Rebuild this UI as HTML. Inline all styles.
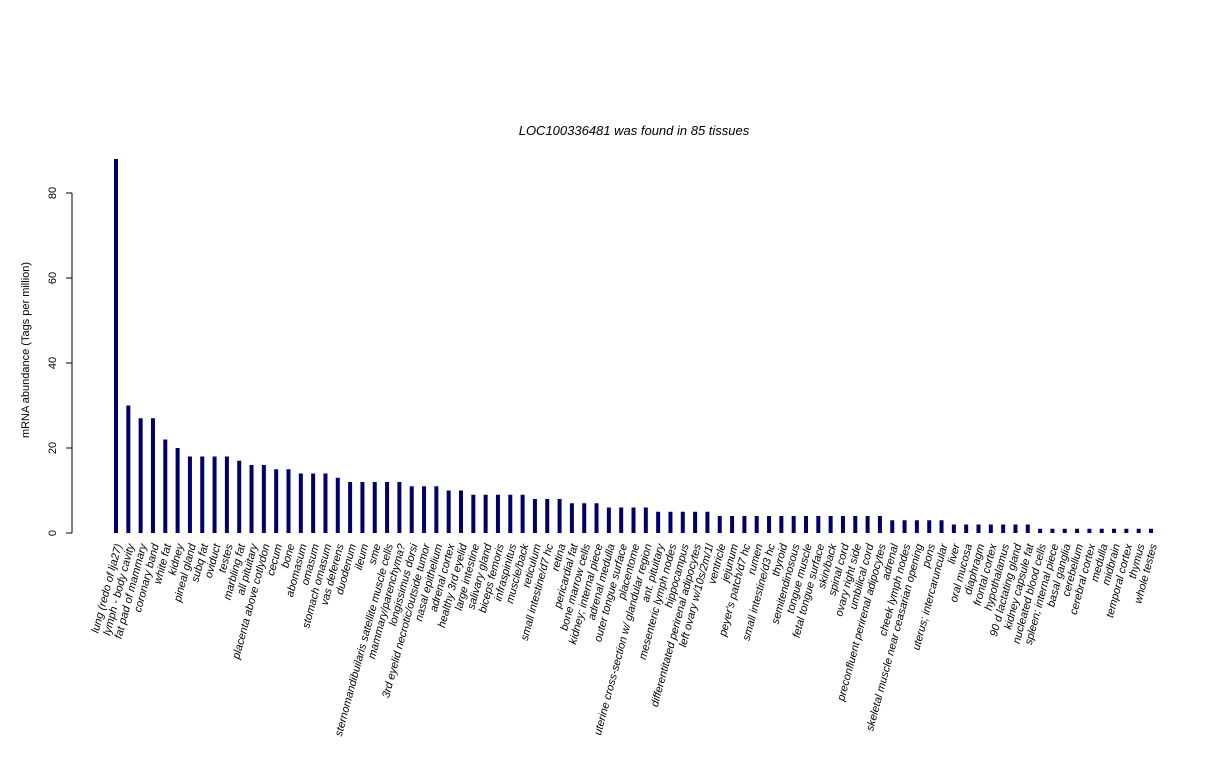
<!DOCTYPE html>
<html><head><meta charset="utf-8"><style>
body{margin:0;background:#fff}
svg text{font-family:"Liberation Sans",sans-serif;fill:#000}
</style></head><body>
<svg id="chart" width="1224" height="768" xmlns="http://www.w3.org/2000/svg">
<text x="634" y="135" text-anchor="middle" font-size="13" font-style="italic">LOC100336481  was found in  85  tissues</text>
<text transform="translate(29,350) rotate(-90)" text-anchor="middle" font-size="11">mRNA abundance (Tags per million)</text>
<g id="yaxis"></g>
<g id="bars"></g>
<g id="xlabels"></g>
</svg>
<script>
const categories=["lung (redo of lja27)","lymph - body cavity","fat pad of mammary","coronary band","white fat","kidney","pineal gland","subq fat","oviduct","testes","marbling fat","all pituitary","placenta above cotlydon","cecum","bone","abomasum","omasum","stomach omasum","vas deferens","duodenum","ileum","sme","sternomandibuilaris satellite muscle cells","mammary/parenchyma?","longissimus dorsi","3rd eyelid necrotic/outside tumor","nasal epithelium","adrenal cortex","healthy 3rd eyelid","large intestine","salivary gland","biceps femoris","infraspinitus","muscle/back","reticulum","small intestine/d7 hc","retina","pericardial fat","bone marrow cells","kidney; internal piece","adrenal medulla","outer tongue surface","placentome","uterine cross-section w/ glandular region","ant. pituitary","mesenteric lymph nodes","hippocampus","differentitated perirenal adipocytes","left ovary w/10s/2m/1l","ventricle","jejunum","peyer's patch/d7 hc","rumen","small intestine/d3 hc","thyroid","semitendinosous","tongue muscle","fetal tongue surface","skin/back","spinal cord","ovary right side","umbilical cord","preconfluent perirenal adipocytes","adrenal","cheek lymph nodes","skeletal muscle near ceasarian opening","pons","uterus; intercaruncular","liver","oral mucosa","diaphragm","frontal cortex","hypothalamus","90 d lactating gland","kidney capsule fat","nucleated blood cells","spleen; internal piece","basal ganglia","cerebellum","cerebral cortex","medulla","midbrain","temporal cortex","thymus","whole testes"];
const values=[88,30,27,27,22,20,18,18,18,18,17,16,16,15,15,14,14,14,13,12,12,12,12,12,11,11,11,10,10,9,9,9,9,9,8,8,8,7,7,7,6,6,6,6,5,5,5,5,5,4,4,4,4,4,4,4,4,4,4,4,4,4,4,3,3,3,3,3,2,2,2,2,2,2,2,1,1,1,1,1,1,1,1,1,1];
const yTicks=[0,20,40,60,80];
const NS="http://www.w3.org/2000/svg";
const y=v=>533-v*4.25;
const x=i=>116+i*(1151-116)/84;
function mk(t,a,p){const e=document.createElementNS(NS,t);for(const k in a)e.setAttribute(k,a[k]);p.appendChild(e);return e;}
const ya=document.getElementById('yaxis');
const al=mk('line',{x1:72,x2:72,y1:y(0),y2:y(80),stroke:'#000'},ya);


yTicks.forEach(t=>{
 const l=mk('line',{x1:66,x2:72,y1:y(t),y2:y(t),stroke:'#000'},ya);
 
 
 const tx=mk('text',{transform:`translate(56,${y(t)}) rotate(-90)`,'text-anchor':'middle','font-size':11},ya);
 tx.textContent=t;
 
 
});
const bg=document.getElementById('bars'),lg=document.getElementById('xlabels');
values.forEach((v,i)=>{
 const r=mk('rect',{x:x(i)-2,y:y(v),width:4,height:y(0)-y(v),fill:'#00006b'},bg);
 
 
 const t=mk('text',{transform:`translate(${x(i)+6},545) rotate(-75)`,'text-anchor':'end','font-size':11,'font-style':'italic'},lg);
 t.textContent=categories[i];
 
 
});
</script>
</body></html>
